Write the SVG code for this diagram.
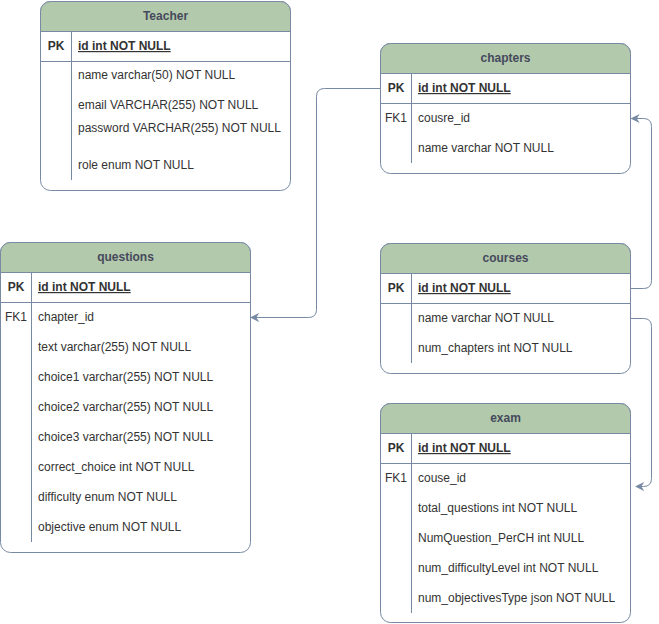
<svg xmlns="http://www.w3.org/2000/svg" width="659" height="624" viewBox="0 0 659 624">
<defs>
<marker id="arr" viewBox="0 0 10 10" refX="9" refY="5" markerWidth="9" markerHeight="9" markerUnits="userSpaceOnUse" orient="auto">
<path d="M0,0 L10,5 L0,10 L3,5 Z" fill="#788AA3"/>
</marker>
<style>
.box{fill:#ffffff;stroke:#788AA3;stroke-width:1}
.hdr{fill:#B2C9AB;stroke:#788AA3;stroke-width:1}
.ln{stroke:#788AA3;stroke-width:1;fill:none}
.t{font-family:"Liberation Sans",Arial,sans-serif;font-size:12px;fill:#333333}
.h{font-family:"Liberation Sans",Arial,sans-serif;font-size:12px;font-weight:bold;fill:#46495D;text-anchor:middle}
.k{font-family:"Liberation Sans",Arial,sans-serif;font-size:12px;fill:#333333;text-anchor:middle}
.kb{font-weight:bold}
.pk{font-weight:bold;text-decoration:underline}
.c{stroke:#788AA3;stroke-width:1;fill:none;marker-end:url(#arr)}
</style>
</defs>

<g id="teacher">
<rect class="box" x="40.5" y="1.5" width="250" height="189" rx="10"/>
<path class="hdr" d="M40.5,31.5 V11.5 A10,10 0 0 1 50.5,1.5 H280.5 A10,10 0 0 1 290.5,11.5 V31.5 Z"/>
<line class="ln" x1="40.5" y1="61.5" x2="290.5" y2="61.5"/>
<line class="ln" x1="71.5" y1="31.5" x2="71.5" y2="180"/>
<text class="h" x="165.5" y="20">Teacher</text>
<text class="k kb" x="56" y="50">PK</text>
<text class="t pk" x="78" y="50">id int NOT NULL</text>
<text class="t" x="78" y="79">name varchar(50) NOT NULL</text>
<text class="t" x="78" y="109">email VARCHAR(255) NOT NULL</text>
<text class="t" x="78" y="132">password VARCHAR(255) NOT NULL</text>
<text class="t" x="78" y="169">role enum NOT NULL</text>
</g>

<g id="chapters">
<rect class="box" x="380.5" y="43.5" width="250" height="130" rx="10"/>
<path class="hdr" d="M380.5,73.5 V53.5 A10,10 0 0 1 390.5,43.5 H620.5 A10,10 0 0 1 630.5,53.5 V73.5 Z"/>
<line class="ln" x1="380.5" y1="103.5" x2="630.5" y2="103.5"/>
<line class="ln" x1="411.5" y1="73.5" x2="411.5" y2="163"/>
<text class="h" x="505.5" y="62">chapters</text>
<text class="k kb" x="396" y="92">PK</text>
<text class="t pk" x="418" y="92">id int NOT NULL</text>
<text class="k" x="396" y="122">FK1</text>
<text class="t" x="418" y="122">cousre_id</text>
<text class="t" x="418" y="152">name varchar NOT NULL</text>
</g>

<g id="questions">
<rect class="box" x="0.5" y="242.5" width="250" height="310" rx="10"/>
<path class="hdr" d="M0.5,272.5 V252.5 A10,10 0 0 1 10.5,242.5 H240.5 A10,10 0 0 1 250.5,252.5 V272.5 Z"/>
<line class="ln" x1="0.5" y1="302.5" x2="250.5" y2="302.5"/>
<line class="ln" x1="31.5" y1="272.5" x2="31.5" y2="542"/>
<text class="h" x="125.5" y="261">questions</text>
<text class="k kb" x="16" y="291">PK</text>
<text class="t pk" x="38" y="291">id int NOT NULL</text>
<text class="k" x="16" y="321">FK1</text>
<text class="t" x="38" y="321">chapter_id</text>
<text class="t" x="38" y="351">text varchar(255) NOT NULL</text>
<text class="t" x="38" y="381">choice1 varchar(255) NOT NULL</text>
<text class="t" x="38" y="411">choice2 varchar(255) NOT NULL</text>
<text class="t" x="38" y="441">choice3 varchar(255) NOT NULL</text>
<text class="t" x="38" y="471">correct_choice int NOT NULL</text>
<text class="t" x="38" y="501">difficulty enum NOT NULL</text>
<text class="t" x="38" y="531">objective enum NOT NULL</text>
</g>

<g id="courses">
<rect class="box" x="380.5" y="243.5" width="250" height="130" rx="10"/>
<path class="hdr" d="M380.5,273.5 V253.5 A10,10 0 0 1 390.5,243.5 H620.5 A10,10 0 0 1 630.5,253.5 V273.5 Z"/>
<line class="ln" x1="380.5" y1="303.5" x2="630.5" y2="303.5"/>
<line class="ln" x1="411.5" y1="273.5" x2="411.5" y2="363"/>
<text class="h" x="505.5" y="262">courses</text>
<text class="k kb" x="396" y="292">PK</text>
<text class="t pk" x="418" y="292">id int NOT NULL</text>
<text class="t" x="418" y="322">name varchar NOT NULL</text>
<text class="t" x="418" y="352">num_chapters int NOT NULL</text>
</g>

<g id="exam">
<rect class="box" x="380.5" y="403.5" width="250" height="219" rx="10"/>
<path class="hdr" d="M380.5,433.5 V413.5 A10,10 0 0 1 390.5,403.5 H620.5 A10,10 0 0 1 630.5,413.5 V433.5 Z"/>
<line class="ln" x1="380.5" y1="463.5" x2="630.5" y2="463.5"/>
<line class="ln" x1="411.5" y1="433.5" x2="411.5" y2="613"/>
<text class="h" x="505.5" y="422">exam</text>
<text class="k kb" x="396" y="452">PK</text>
<text class="t pk" x="418" y="452">id int NOT NULL</text>
<text class="k" x="396" y="482">FK1</text>
<text class="t" x="418" y="482">couse_id</text>
<text class="t" x="418" y="512">total_questions int NOT NULL</text>
<text class="t" x="418" y="542">NumQuestion_PerCH int NULL</text>
<text class="t" x="418" y="572">num_difficultyLevel int NOT NULL</text>
<text class="t" x="418" y="602">num_objectivesType json NOT NULL</text>
</g>

<g id="connectors">
<path class="c" d="M380.5,88.5 H324.5 Q316.5,88.5 316.5,96.5 V309.5 Q316.5,317.5 308.5,317.5 H251"/>
<path class="c" d="M630.5,288.5 H643.5 Q651.5,288.5 651.5,280.5 V126.5 Q651.5,118.5 643.5,118.5 H631.5"/>
<path class="c" d="M630.5,318.5 H643.5 Q651.5,318.5 651.5,326.5 V478.5 Q651.5,486.5 643.5,486.5 H636"/>
</g>
</svg>
